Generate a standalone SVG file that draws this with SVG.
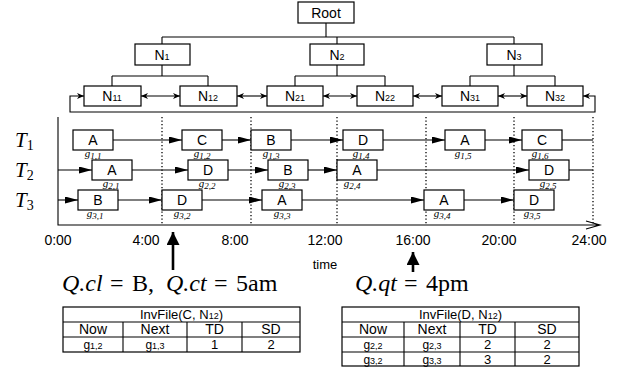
<svg xmlns="http://www.w3.org/2000/svg" width="628" height="369" viewBox="0 0 628 369">
<defs>
<style>
.box{fill:#fff;stroke:#000;stroke-width:1.2}
.ln{fill:none;stroke:#000;stroke-width:1.1}
.dot{fill:none;stroke:#000;stroke-width:1.3;stroke-dasharray:1.3,2.2}
.s{font-family:"Liberation Sans",Arial,sans-serif;fill:#000}
.m{font-family:"Liberation Serif","Times New Roman",serif;fill:#000}
.nl{font-size:14px;text-anchor:middle}
.bl{font-size:14px;text-anchor:middle}
.gl{font-size:11px;font-style:italic;text-anchor:middle}
.sub{font-size:9px}
.tk{font-size:14px;text-anchor:middle}
.tb{font-size:13px;text-anchor:middle}
.it{font-style:italic}
</style>
<marker id="ah" markerUnits="userSpaceOnUse" markerWidth="14" markerHeight="8" refX="13" refY="3.5" orient="auto">
<path d="M0,0 L13,3.5 L0,7 z" fill="#000"/>
</marker>
<marker id="sa" markerUnits="userSpaceOnUse" markerWidth="8" markerHeight="7" refX="7" refY="3" orient="auto">
<path d="M0,0 L7,3 L0,6 L2,3 z" fill="#000"/>
</marker>
<marker id="sb" markerUnits="userSpaceOnUse" markerWidth="8" markerHeight="7" refX="0" refY="3" orient="auto">
<path d="M7,0 L0,3 L7,6 L5,3 z" fill="#000"/>
</marker>
<marker id="big" markerUnits="userSpaceOnUse" markerWidth="14" markerHeight="14" refX="6.5" refY="0" orient="0">
<path d="M0,13 L6.5,0 L13,13 z" fill="#000"/>
</marker>
</defs>

<g id="connectors">
<path class="ln" d="M326,23 V37 M162,37 H514 M162,37 V44 M337,37 V44 M514,37 V44"/>
<path class="ln" d="M162,65 V76 M112,76 H208 M112,76 V86 M208,76 V86"/>
<path class="ln" d="M337,65 V76 M295,76 H385 M295,76 V86 M385,76 V86"/>
<path class="ln" d="M514,65 V76 M470,76 H555 M470,76 V86 M555,76 V86"/>
<line class="ln" x1="141" y1="96" x2="180" y2="96" marker-start="url(#sb)" marker-end="url(#sa)"/>
<line class="ln" x1="237" y1="96" x2="267" y2="96" marker-start="url(#sb)" marker-end="url(#sa)"/>
<line class="ln" x1="323" y1="96" x2="357" y2="96" marker-start="url(#sb)" marker-end="url(#sa)"/>
<line class="ln" x1="413" y1="96" x2="442" y2="96" marker-start="url(#sb)" marker-end="url(#sa)"/>
<line class="ln" x1="498" y1="96" x2="527" y2="96" marker-start="url(#sb)" marker-end="url(#sa)"/>
<path class="ln" d="M583,96 H595 V112 H70 V96 H84" marker-start="url(#sb)" marker-end="url(#sa)"/>

<path class="dot" d="M162,117 V225 M251,117 V225 M337,117 V225 M426,117 V225 M514,117 V225 M593,117 V225"/>
<path class="ln" d="M58,117 V225 H600 M586,221 L600,225 L586,229"/>

<line class="ln" x1="113" y1="140" x2="182" y2="140" marker-end="url(#ah)"/>
<line class="ln" x1="222" y1="140" x2="251" y2="140" marker-end="url(#ah)"/>
<line class="ln" x1="291" y1="140" x2="343" y2="140" marker-end="url(#ah)"/>
<line class="ln" x1="383" y1="140" x2="445" y2="140" marker-end="url(#ah)"/>
<line class="ln" x1="485" y1="140" x2="522" y2="140" marker-end="url(#ah)"/>
<line class="ln" x1="562" y1="140" x2="593" y2="140"/>

<line class="ln" x1="58" y1="170" x2="92" y2="170" marker-end="url(#ah)"/>
<line class="ln" x1="132" y1="170" x2="188" y2="170" marker-end="url(#ah)"/>
<line class="ln" x1="228" y1="170" x2="268" y2="170" marker-end="url(#ah)"/>
<line class="ln" x1="308" y1="170" x2="337" y2="170" marker-end="url(#ah)"/>
<line class="ln" x1="377" y1="170" x2="529" y2="170" marker-end="url(#ah)"/>
<line class="ln" x1="569" y1="170" x2="593" y2="170"/>

<line class="ln" x1="58" y1="200" x2="78" y2="200" marker-end="url(#ah)"/>
<line class="ln" x1="118" y1="200" x2="162" y2="200" marker-end="url(#ah)"/>
<line class="ln" x1="202" y1="200" x2="262" y2="200" marker-end="url(#ah)"/>
<line class="ln" x1="302" y1="200" x2="424" y2="200" marker-end="url(#ah)"/>
<line class="ln" x1="464" y1="200" x2="514" y2="200" marker-end="url(#ah)"/>

<line x1="173" y1="270" x2="173" y2="232" stroke="#000" stroke-width="2.6" marker-end="url(#big)"/>
<line x1="413" y1="272" x2="413" y2="252" stroke="#000" stroke-width="2.6" marker-end="url(#big)"/>
</g>

<g id="root"><rect class="box" x="298" y="2" width="56" height="21"/><text class="s nl" x="326" y="18">Root</text></g>
<g id="n1"><rect class="box" x="135" y="44" width="55" height="21"/><text class="s nl" x="162" y="60">N<tspan font-size="9">1</tspan></text></g>
<g id="n2"><rect class="box" x="310" y="44" width="54" height="21"/><text class="s nl" x="337" y="60">N<tspan font-size="9">2</tspan></text></g>
<g id="n3"><rect class="box" x="487" y="44" width="55" height="21"/><text class="s nl" x="514" y="60">N<tspan font-size="9">3</tspan></text></g>
<g id="n11"><rect class="box" x="84" y="86" width="57" height="20"/><text class="s nl" x="112" y="101">N<tspan font-size="9">11</tspan></text></g>
<g id="n12"><rect class="box" x="180" y="86" width="57" height="20"/><text class="s nl" x="208" y="101">N<tspan font-size="9">12</tspan></text></g>
<g id="n21"><rect class="box" x="267" y="86" width="56" height="20"/><text class="s nl" x="295" y="101">N<tspan font-size="9">21</tspan></text></g>
<g id="n22"><rect class="box" x="357" y="86" width="56" height="20"/><text class="s nl" x="385" y="101">N<tspan font-size="9">22</tspan></text></g>
<g id="n31"><rect class="box" x="442" y="86" width="56" height="20"/><text class="s nl" x="470" y="101">N<tspan font-size="9">31</tspan></text></g>
<g id="n32"><rect class="box" x="527" y="86" width="56" height="20"/><text class="s nl" x="555" y="101">N<tspan font-size="9">32</tspan></text></g>

<g id="rowlabels">
<text class="m" x="15" y="147" font-size="21" font-style="italic">T<tspan font-size="14" font-style="normal" dy="3">1</tspan></text>
<text class="m" x="15" y="177" font-size="21" font-style="italic">T<tspan font-size="14" font-style="normal" dy="3">2</tspan></text>
<text class="m" x="15" y="207" font-size="21" font-style="italic">T<tspan font-size="14" font-style="normal" dy="3">3</tspan></text>
</g>

<g id="g11"><rect class="box" x="73" y="130" width="40" height="20"/><text class="s bl" x="93" y="145">A</text><text class="m gl" x="93" y="157">g<tspan class="sub" dy="2">1,1</tspan></text></g>
<g id="g12"><rect class="box" x="182" y="130" width="40" height="20"/><text class="s bl" x="202" y="145">C</text><text class="m gl" x="202" y="157">g<tspan class="sub" dy="2">1,2</tspan></text></g>
<g id="g13"><rect class="box" x="251" y="130" width="40" height="20"/><text class="s bl" x="271" y="145">B</text><text class="m gl" x="271" y="157">g<tspan class="sub" dy="2">1,3</tspan></text></g>
<g id="g14"><rect class="box" x="343" y="130" width="40" height="20"/><text class="s bl" x="363" y="145">D</text><text class="m gl" x="361" y="157">g<tspan class="sub" dy="2">1,4</tspan></text></g>
<g id="g15"><rect class="box" x="445" y="130" width="40" height="20"/><text class="s bl" x="465" y="145">A</text><text class="m gl" x="463" y="157">g<tspan class="sub" dy="2">1,5</tspan></text></g>
<g id="g16"><rect class="box" x="522" y="130" width="40" height="20"/><text class="s bl" x="542" y="145">C</text><text class="m gl" x="540" y="157">g<tspan class="sub" dy="2">1,6</tspan></text></g>

<g id="g21"><rect class="box" x="92" y="160" width="40" height="20"/><text class="s bl" x="112" y="175">A</text><text class="m gl" x="111" y="187">g<tspan class="sub" dy="2">2,1</tspan></text></g>
<g id="g22"><rect class="box" x="188" y="160" width="40" height="20"/><text class="s bl" x="208" y="175">D</text><text class="m gl" x="207" y="187">g<tspan class="sub" dy="2">2,2</tspan></text></g>
<g id="g23"><rect class="box" x="268" y="160" width="40" height="20"/><text class="s bl" x="288" y="175">B</text><text class="m gl" x="287" y="187">g<tspan class="sub" dy="2">2,3</tspan></text></g>
<g id="g24"><rect class="box" x="337" y="160" width="40" height="20"/><text class="s bl" x="357" y="175">A</text><text class="m gl" x="352" y="187">g<tspan class="sub" dy="2">2,4</tspan></text></g>
<g id="g25"><rect class="box" x="529" y="160" width="40" height="20"/><text class="s bl" x="549" y="175">D</text><text class="m gl" x="548" y="187">g<tspan class="sub" dy="2">2,5</tspan></text></g>

<g id="g31"><rect class="box" x="78" y="190" width="40" height="20"/><text class="s bl" x="98" y="205">B</text><text class="m gl" x="95" y="217">g<tspan class="sub" dy="2">3,1</tspan></text></g>
<g id="g32"><rect class="box" x="162" y="190" width="40" height="20"/><text class="s bl" x="182" y="205">D</text><text class="m gl" x="182" y="217">g<tspan class="sub" dy="2">3,2</tspan></text></g>
<g id="g33"><rect class="box" x="262" y="190" width="40" height="20"/><text class="s bl" x="282" y="205">A</text><text class="m gl" x="282" y="217">g<tspan class="sub" dy="2">3,3</tspan></text></g>
<g id="g34"><rect class="box" x="424" y="190" width="40" height="20"/><text class="s bl" x="444" y="205">A</text><text class="m gl" x="442" y="217">g<tspan class="sub" dy="2">3,4</tspan></text></g>
<g id="g35"><rect class="box" x="514" y="190" width="40" height="20"/><text class="s bl" x="534" y="205">D</text><text class="m gl" x="532" y="217">g<tspan class="sub" dy="2">3,5</tspan></text></g>

<g id="ticks" class="s tk">
<text x="58" y="245">0:00</text>
<text x="146" y="245">4:00</text>
<text x="235" y="245">8:00</text>
<text x="325" y="245">12:00</text>
<text x="413" y="245">16:00</text>
<text x="499" y="245">20:00</text>
<text x="589" y="245">24:00</text>
<text x="325" y="269" font-size="13">time</text>
</g>

<g id="queries" class="m" font-size="24">
<text y="291"><tspan class="it" x="62">Q.cl</tspan><tspan x="110">=</tspan><tspan x="132">B,</tspan><tspan class="it" x="166">Q.ct</tspan><tspan x="214">=</tspan><tspan x="236">5am</tspan></text>
<text y="291"><tspan class="it" x="355">Q.qt</tspan><tspan x="404">=</tspan><tspan x="426">4pm</tspan></text>
</g>

<g id="table1">
<rect class="box" x="63" y="307" width="237" height="45"/>
<path class="ln" d="M63,322 H300 M63,337 H300 M123,322 V352 M187,322 V352 M242,322 V352"/>
<g class="s tb">
<text x="181.5" y="319">InvFile(C, N<tspan font-size="9">12</tspan>)</text>
<text x="93" y="334" font-size="14">Now</text>
<text x="155" y="334" font-size="14">Next</text>
<text x="214.5" y="334" font-size="14">TD</text>
<text x="271" y="334" font-size="14">SD</text>
<text x="93" y="349" font-size="12">g<tspan font-size="9">1,2</tspan></text>
<text x="155" y="349" font-size="12">g<tspan font-size="9">1,3</tspan></text>
<text x="214.5" y="349">1</text>
<text x="271" y="349">2</text>
</g>
</g>

<g id="table2">
<rect class="box" x="342" y="307" width="237" height="59"/>
<path class="ln" d="M342,322 H579 M342,337 H579 M342,352 H579 M404,322 V366 M460,322 V366 M515,322 V366"/>
<g class="s tb">
<text x="460.5" y="319">InvFile(D, N<tspan font-size="9">12</tspan>)</text>
<text x="373" y="334" font-size="14">Now</text>
<text x="432" y="334" font-size="14">Next</text>
<text x="487.5" y="334" font-size="14">TD</text>
<text x="547" y="334" font-size="14">SD</text>
<text x="373" y="349" font-size="12">g<tspan font-size="9">2,2</tspan></text>
<text x="432" y="349" font-size="12">g<tspan font-size="9">2,3</tspan></text>
<text x="487.5" y="349">2</text>
<text x="547" y="349">2</text>
<text x="373" y="364" font-size="12">g<tspan font-size="9">3,2</tspan></text>
<text x="432" y="364" font-size="12">g<tspan font-size="9">3,3</tspan></text>
<text x="487.5" y="364">3</text>
<text x="547" y="364">2</text>
</g>
</g>
</svg>
